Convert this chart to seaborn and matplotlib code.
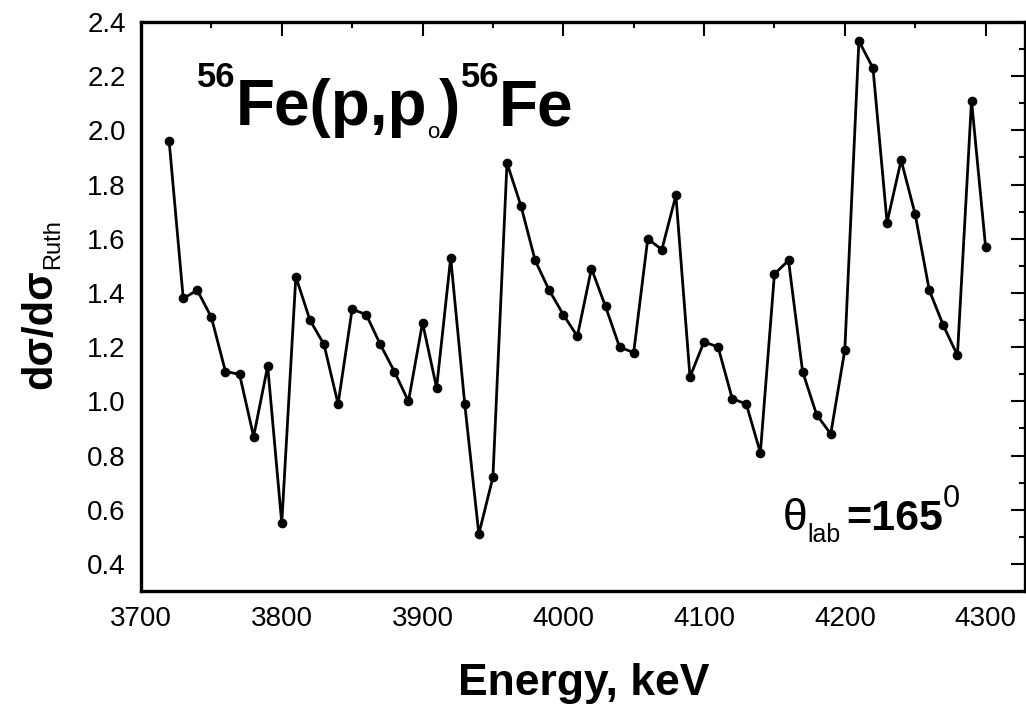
import matplotlib
matplotlib.use("Agg")
import matplotlib.pyplot as plt
import pandas as pd
import seaborn as sns
from matplotlib import font_manager
from matplotlib.ticker import MultipleLocator

# Proton elastic scattering excitation function, 56Fe(p,p0)56Fe at 165 deg
energy_kev = [3720, 3730, 3740, 3750, 3760, 3770, 3780, 3790, 3800, 3810,
              3820, 3830, 3840, 3850, 3860, 3870, 3880, 3890, 3900, 3910,
              3920, 3930, 3940, 3950, 3960, 3970, 3980, 3990, 4000, 4010,
              4020, 4030, 4040, 4050, 4060, 4070, 4080, 4090, 4100, 4110,
              4120, 4130, 4140, 4150, 4160, 4170, 4180, 4190, 4200, 4210,
              4220, 4230, 4240, 4250, 4260, 4270, 4280, 4290, 4300]
ratio_to_rutherford = [1.96, 1.38, 1.41, 1.31, 1.11, 1.10, 0.87, 1.13, 0.55, 1.46,
                       1.30, 1.21, 0.99, 1.34, 1.32, 1.21, 1.11, 1.00, 1.29, 1.05,
                       1.53, 0.99, 0.51, 0.72, 1.88, 1.72, 1.52, 1.41, 1.32, 1.24,
                       1.49, 1.35, 1.20, 1.18, 1.60, 1.56, 1.76, 1.09, 1.22, 1.20,
                       1.01, 0.99, 0.81, 1.47, 1.52, 1.11, 0.95, 0.88, 1.19, 2.33,
                       2.23, 1.66, 1.89, 1.69, 1.41, 1.28, 1.17, 2.11, 1.57]
x_ticks = [3700, 3800, 3900, 4000, 4100, 4200, 4300]
y_ticks = [0.4, 0.6, 0.8, 1.0, 1.2, 1.4, 1.6, 1.8, 2.0, 2.2, 2.4]

sns.set_theme(style="white")
installed = {f.name for f in font_manager.fontManager.ttflist}
MAIN = "Liberation Sans" if "Liberation Sans" in installed else "DejaVu Sans"
plt.rcParams["font.family"] = [MAIN, "DejaVu Sans"]

W, H = 1026, 708
fig = plt.figure(figsize=(W / 100, H / 100), dpi=100)
ax = fig.add_axes([141 / W, (H - 591) / H, (1025 - 141) / W, (591 - 22) / H])

df = pd.DataFrame({"E": energy_kev, "r": ratio_to_rutherford})
sns.lineplot(data=df, x="E", y="r", ax=ax, color="black", linewidth=2.0,
             marker="o", markersize=6.2, markeredgecolor="black",
             markerfacecolor="black", estimator=None, sort=False)

ax.set_xlim(3700, 4328)
ax.set_ylim(0.30, 2.39)
ax.set_xticks(x_ticks)
ax.set_yticks(y_ticks)
ax.xaxis.set_minor_locator(MultipleLocator(50))
ax.yaxis.set_minor_locator(MultipleLocator(0.1))
ax.tick_params(which="both", direction="in", top=True, right=True,
               color="black", width=1.5)
ax.tick_params(which="major", length=10)
ax.tick_params(which="minor", length=4.5)
ax.tick_params(axis="both", which="major", pad=11)
for lab in ax.get_xticklabels() + ax.get_yticklabels():
    lab.set_fontsize(20)
    lab.set_color("black")
for sp in ax.spines.values():
    sp.set_linewidth(2.4)
    sp.set_color("black")
ax.set_xlabel("")
ax.set_ylabel("")

fig.text(584 / W, (H - 695) / H, "Energy, keV", ha="center", va="baseline",
         fontsize=32, fontweight="bold", color="black")

fig.canvas.draw()
renderer = fig.canvas.get_renderer()


def run_text(x_px, parts):
    """Lay out text pieces left to right; each piece has its own baseline."""
    x = x_px
    for text, size, base_px, weight, gap in parts:
        x += gap
        t = fig.text(x / W, (H - base_px) / H, text, fontsize=size,
                     fontweight=weight, ha="left", va="baseline", color="black")
        x += t.get_window_extent(renderer).width


run_text(197, [("56", 25, 87, "bold", 0),
               ("Fe(p,p", 46, 125, "bold", 0),
               ("o", 16, 138, "normal", 0),
               (")", 46, 125, "bold", 0),
               ("56", 25, 87, "bold", 0),
               ("Fe", 46, 125, "bold", 0)])

run_text(783, [("θ", 32, 530, "normal", 0),
               ("lab", 18, 542, "normal", 0),
               ("=165", 31, 530, "bold", 5),
               ("0", 22, 507, "normal", 0)])

# rotated axis title with its subscript
t1 = fig.text(40 / W, (H - 389) / H, "dσ/dσ", rotation=90, ha="center",
              va="bottom", fontsize=30, fontweight="bold", color="black")
bb = t1.get_window_extent(renderer)
fig.text(53 / W, bb.y1 / H, "Ruth", rotation=90, ha="center", va="bottom",
         fontsize=17, color="black")

fig.savefig("out.png", dpi=100)
